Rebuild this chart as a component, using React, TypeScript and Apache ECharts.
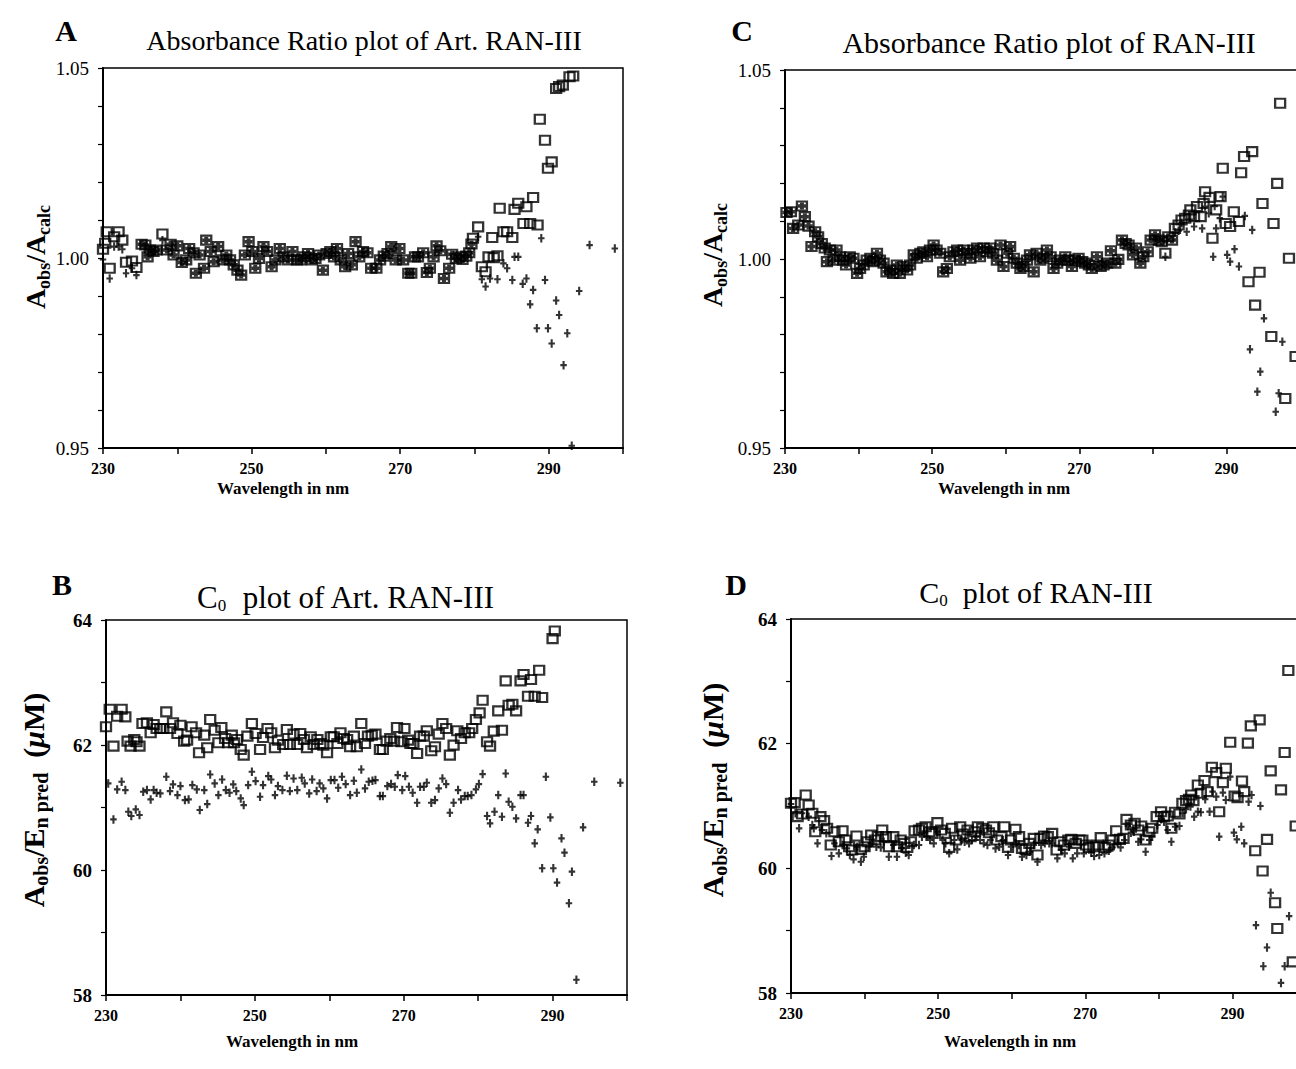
import React, { useEffect, useRef } from 'react';
import * as echarts from 'echarts';

const SERIF = "'Liberation Serif', 'DejaVu Serif', serif";
const PLUS = 'path://M2.1,0H4.1V3H6.2V5H4.1V8H2.1V5H0V3H2.1Z';
const PLUS_BOLD = 'path://M2,0H6V2H8V6H6V8H2V6H0V2H2Z';

// tick labels
const xLabelTicks = [230, 250, 270, 290];
const yLabelsAC = ['0.95', '1.00', '1.05'];
const yLabelsBD = [58, 60, 62, 64];

// ---------- Panel A : Absorbance Ratio plot of Art. RAN-III ----------
// points where square and plus coincide
const aOverlap = [
  [235.2,1.0036],[235.7,1.0034],[236.0,1.0003],[236.3,1.0021],[236.8,1.0017],[237.2,1.0021],[238.6,1.0021],[239.1,1.0036],[239.5,1.0008],[240.0,1.0032],[240.6,0.9988],[241.2,0.9995],[241.6,1.0025],[242.2,1.0014],[242.5,0.9960],[243.0,1.0008],[243.6,0.9973],[243.9,1.0047],[244.5,1.0017],[244.9,0.9990],[245.5,1.0030],[246.1,0.9995],[246.6,1.0008],[247.1,0.9995],[247.6,0.9982],[248.1,0.9968],[248.6,0.9955],[249.1,1.0008],[249.6,1.0043],[250.1,1.0017],[250.5,0.9973],[251.0,0.9999],[251.6,1.0030],[252.1,1.0017],[252.7,0.9977],[253.2,0.9995],[253.8,1.0025],[254.3,1.0003],[254.9,0.9995],[255.5,1.0017],[256.1,0.9995],[256.6,0.9995],[257.1,1.0003],[257.6,1.0012],[258.1,0.9995],[258.6,0.9999],[259.1,1.0008],[259.6,0.9968],[260.1,1.0012],[260.6,1.0017],[261.1,1.0003],[261.5,1.0025],[262.0,0.9995],[262.6,0.9977],[263.0,1.0012],[263.5,0.9982],[264.0,1.0043],[264.5,1.0003],[265.0,1.0017],[265.6,1.0014],[266.1,0.9973],[266.8,0.9973],[267.3,0.9995],[267.8,1.0005],[268.3,1.0012],[268.8,1.0030],[269.4,0.9995],[269.9,1.0025],[270.4,0.9995],[271.1,0.9960],[271.5,0.9960],[272.0,1.0003],[272.4,1.0003],[273.1,1.0014],[273.6,0.9962],[274.0,0.9973],[274.5,1.0003],[274.9,1.0032],[275.4,1.0019],[275.9,0.9946],[276.6,0.9973],[277.0,1.0010],[277.5,0.9999],[278.0,1.0003],[278.4,0.9996],[278.9,1.0005],[279.3,1.0014],[279.6,1.0037]
];
const aSquaresOnly = [
  [230.0,1.0023],[230.3,1.0039],[230.5,1.0069],[230.9,0.9973],[231.5,1.0056],[232.1,1.0069],[232.6,1.0047],[233.1,0.9989],[233.9,0.9992],[234.5,0.9975],[238.0,1.0063],
  [279.8,1.0052],[280.5,1.0082],[281.0,0.9977],[281.5,0.9964],[281.9,1.0003],[282.4,1.0054],[282.6,1.0001],[283.1,1.0006],[283.4,1.0131],[283.9,1.0069],[284.4,1.0069],[285.1,1.0054],[285.4,1.0128],[285.9,1.0144],[286.6,1.0091],[287.0,1.0135],[287.5,1.0091],[287.9,1.0159],[288.5,1.0087],[288.8,1.0365],[289.5,1.0310],[289.9,1.0236],[290.4,1.0253],[291.0,1.0446],[291.4,1.0451],[291.9,1.0455],[292.8,1.0477],[293.3,1.0479]
];
const aPlusesOnly = [
  [230.0,0.9996],[230.9,0.9946],[231.5,1.0030],[232.1,1.0030],[232.6,1.0023],[233.1,0.9960],[233.9,0.9973],[234.5,0.9955],[238.0,1.0047],
  [280.5,1.0056],[281.0,0.9944],[281.5,0.9925],[282.1,0.9946],[283.1,0.9944],[283.9,0.9986],[284.4,0.9973],[285.1,0.9942],[285.4,1.0003],[285.9,1.0003],[286.5,0.9932],[287.0,0.9946],[287.5,0.9878],[287.9,0.9916],[288.4,0.9815],[289.0,1.0052],[289.5,0.9942],[289.9,0.9815],[290.4,0.9775],[291.0,0.9888],[291.4,0.9850],[292.0,0.9718],[292.5,0.9802],[293.1,0.9506],[294.1,0.9913],[295.5,1.0034],[298.9,1.0025]
];

// ---------- Panel C : Absorbance Ratio plot of RAN-III ----------
const cOverlap = [
  [230.2,1.0123],[230.8,1.0125],[231.1,1.0081],[231.8,1.0090],[232.3,1.0140],[232.7,1.0112],[233.2,1.0087],[233.6,1.0033],[234.1,1.0072],[234.5,1.0059],[235.0,1.0041],[235.4,1.0029],[235.7,0.9993],[236.1,1.0024],[236.6,0.9997],[237.0,1.0024],[237.5,1.0006],[237.9,0.9997],[238.3,0.9984],[238.8,1.0006],[239.3,1.0002],[239.8,0.9962],[240.2,0.9975],[240.7,0.9984],[241.1,0.9997],[241.6,1.0002],[242.0,0.9993],[242.5,1.0015],[242.9,0.9997],[243.4,0.9989],[243.8,0.9966],[244.3,0.9971],[244.7,0.9962],[245.2,0.9984],[245.6,0.9962],[246.1,0.9980],[246.6,0.9971],[247.0,0.9984],[247.5,1.0011],[247.9,1.0002],[248.4,1.0015],[248.8,1.0019],[249.3,1.0006],[249.7,1.0024],[250.2,1.0037],[250.6,1.0024],[251.1,1.0015],[251.5,0.9966],[252.0,0.9975],[252.4,1.0006],[252.9,1.0019],[253.4,1.0024],[253.8,0.9997],[254.3,1.0024],[254.7,1.0015],[255.2,1.0002],[255.6,1.0024],[256.1,1.0029],[256.5,1.0006],[257.0,1.0029],[257.4,1.0019],[257.9,1.0029],[258.3,1.0015],[258.8,0.9997],[259.3,1.0037],[259.7,0.9980],[260.2,1.0015],[260.6,1.0033],[261.1,1.0002],[261.5,0.9989],[262.0,0.9975],[262.4,0.9980],[262.9,0.9997],[263.3,1.0011],[263.8,0.9966],[264.2,1.0015],[264.7,0.9997],[265.1,1.0002],[265.6,1.0024],[266.1,1.0006],[266.5,0.9975],[267.0,0.9989],[267.4,0.9997],
  [268.1,1.0006],[268.5,0.9997],[269.0,0.9980],[269.4,0.9997],[269.9,1.0002],[270.4,0.9993],[270.8,0.9989],[271.3,0.9984],[271.7,0.9975],[272.4,1.0006],[272.9,0.9980],[273.3,0.9984],[273.8,0.9989],[274.3,1.0022],[274.9,0.9989],[275.3,0.9999],[275.8,1.0050],[276.3,1.0041],[276.7,1.0037],[277.3,1.0011],[277.7,1.0029],[278.3,0.9989],[278.7,1.0006],[279.3,1.0019],[279.7,1.0050],[280.3,1.0064],[280.8,1.0050],[281.2,1.0046],[282.1,1.0059],[282.6,1.0050]
];
const cSquaresOnly = [
  [281.7,1.0015],[283.0,1.0081],[283.5,1.0090],[283.9,1.0103],[284.4,1.0108],[284.9,1.0116],[285.1,1.0130],[285.6,1.0112],[286.0,1.0139],[286.5,1.0112],[286.9,1.0147],[287.1,1.0178],[287.7,1.0163],[288.1,1.0055],[288.6,1.0130],[289.2,1.0165],[289.5,1.0240],[289.9,1.0094],[290.5,1.0086],[291.0,1.0125],[291.7,1.0099],[292.0,1.0228],[292.4,1.0271],[293.0,0.9940],[293.5,1.0284],[293.9,0.9878],[294.5,0.9965],[294.9,1.0147],[296.1,0.9795],[296.4,1.0094],[296.9,1.0200],[297.3,1.0412],[298.0,0.9631],[298.5,1.0002],[299.4,0.9742]
];
const cPlusesOnly = [
  [281.7,1.0006],[283.0,1.0070],[283.5,1.0075],[283.9,1.0095],[284.6,1.0072],[285.6,1.0086],[286.7,1.0081],[287.1,1.0139],[287.6,1.0121],[288.2,1.0006],[288.4,1.0140],[288.6,1.0081],[289.1,1.0108],[289.5,1.0165],[290.1,1.0011],[290.5,0.9993],[291.1,1.0026],[291.7,0.9980],[292.5,1.0114],[293.2,0.9761],[293.5,1.0077],[294.2,0.9649],[294.6,0.9702],[295.1,0.9843],[296.7,0.9596],[297.1,0.9645],[297.6,0.9781]
];

// ---------- Panel B : C0 plot of Art. RAN-III ----------
const bSquares = [
  [230.0,62.291],[230.5,62.573],[231.0,61.982],[231.5,62.461],[232.1,62.573],[232.6,62.450],[232.9,62.062],[233.3,61.982],[233.8,62.088],[234.1,62.051],[234.5,61.982],[234.9,62.344],[235.5,62.355],[236.0,62.195],[236.4,62.328],[236.8,62.264],[237.3,62.264],[237.7,62.264],[238.1,62.530],[238.6,62.264],[239.0,62.355],[239.6,62.184],[240.0,62.317],[240.5,62.062],[240.9,62.078],[241.5,62.291],[242.1,62.195],[242.5,61.875],[243.2,62.158],[243.6,61.955],[244.0,62.408],[244.6,62.237],[245.1,62.035],[245.5,62.280],[246.0,62.104],[246.4,62.035],[246.9,62.158],[247.2,62.035],[247.6,62.088],[248.1,61.929],[248.5,61.838],[249.0,62.142],[249.6,62.344],[250.1,62.184],[250.7,61.929],[251.1,62.120],[251.7,62.264],[252.2,62.195],[252.7,61.955],[253.1,62.078],[253.8,62.008],[254.3,62.248],[254.7,62.008],[255.2,62.174],[255.7,62.008],[256.1,62.184],[256.6,62.088],[257.0,61.955],[257.5,62.131],[257.9,62.008],[258.4,62.088],[258.8,62.024],[259.2,61.998],[259.7,61.875],[260.2,62.131],[260.6,62.131],[261.1,62.024],[261.5,62.195],[261.9,62.104],[262.4,62.088],[262.8,61.971],[263.3,62.142],[263.7,61.971],[264.3,62.344],[264.8,62.024],[265.2,62.142],[265.7,62.158],[266.2,62.174],[266.8,61.929],[267.2,61.929],[267.7,62.062],[268.2,62.104],[268.7,62.062],[269.1,62.280],[269.7,62.051],[270.1,62.264],[270.6,62.078],
  [270.9,62.024],[271.3,62.024],[271.8,61.865],[272.2,62.142],[272.7,62.142],[273.1,62.227],[273.7,61.907],[274.2,61.971],[274.7,62.174],[275.2,62.344],[275.7,62.264],[276.2,61.838],[276.7,61.998],[277.2,62.227],[277.7,62.104],[278.2,62.195],[278.8,62.195],[279.2,62.264],[279.7,62.408],[280.2,62.514],[280.6,62.717],[281.2,62.051],[281.6,61.982],[282.1,62.222],[282.7,62.546],[283.2,62.237],[283.7,63.026],[284.1,62.637],[284.6,62.653],[285.1,62.546],[285.7,63.026],[286.1,63.127],[286.7,62.781],[287.1,63.047],[287.6,62.781],[288.2,63.196],[288.6,62.759],[290.0,63.702],[290.3,63.824]
];
const bPluses = [
  [230.3,61.386],[231.0,60.810],[231.5,61.290],[232.1,61.412],[232.6,61.279],[233.0,60.933],[233.4,60.864],[234.0,60.970],[234.5,60.880],[235.0,61.252],[235.5,61.279],[236.0,61.130],[236.4,61.279],[236.8,61.236],[237.3,61.226],[238.1,61.492],[238.6,61.263],[239.0,61.370],[239.6,61.199],[240.0,61.343],[240.6,61.119],[241.1,61.130],[241.6,61.359],[242.2,61.290],[242.6,60.960],[243.2,61.279],[243.6,61.055],[244.0,61.529],[244.6,61.386],[245.1,61.199],[245.6,61.449],[246.1,61.279],[246.6,61.236],[247.1,61.370],[247.5,61.263],[248.1,61.146],[248.5,61.039],[249.1,61.359],[249.6,61.572],[250.1,61.423],[250.7,61.173],[251.1,61.359],[251.8,61.503],[252.2,61.449],[252.7,61.199],[253.1,61.343],[253.7,61.279],[254.3,61.508],[254.7,61.263],[255.2,61.465],[255.7,61.279],[256.3,61.476],[256.7,61.386],[257.3,61.226],[257.7,61.449],[258.3,61.263],[258.7,61.386],[259.2,61.306],[259.7,61.146],[260.2,61.439],[260.7,61.439],[261.2,61.316],[261.7,61.492],[262.2,61.375],[262.8,61.199],[263.3,61.428],[263.7,61.236],[264.3,61.609],[264.8,61.306],[265.3,61.412],[265.8,61.428],[266.2,61.439],[266.8,61.183],[267.2,61.183],[267.8,61.343],[268.3,61.375],[268.8,61.332],[269.2,61.519],[269.8,61.279],[270.2,61.503],[270.7,61.332],
  [271.2,61.236],[271.8,61.077],[272.2,61.332],[272.7,61.332],[273.1,61.396],[273.7,61.077],[274.2,61.119],[274.7,61.306],[275.2,61.465],[275.7,61.375],[276.2,60.917],[276.7,61.077],[277.3,61.279],[277.7,61.130],[278.2,61.183],[278.6,61.183],[279.1,61.199],[279.7,61.290],[280.1,61.375],[280.6,61.535],[281.2,60.864],[281.6,60.747],[282.2,60.933],[282.7,61.199],[283.2,60.853],[283.7,61.545],[284.1,61.093],[284.6,61.013],[285.1,60.826],[285.7,61.199],[286.1,61.199],[286.7,60.757],[287.1,60.864],[287.6,60.427],[288.0,60.651],[288.6,60.028],[289.1,61.492],[289.7,60.842],[290.1,60.028],[290.6,59.799],[291.2,60.507],[291.6,60.278],[292.2,59.468],[292.6,59.974],[293.2,58.244],[294.1,60.683],[295.6,61.412],[299.1,61.396]
];

// ---------- Panel D : C0 plot of RAN-III ----------
const dSquares = [
  [230.0,61.043],[230.5,61.054],[230.9,60.829],[231.5,60.872],[232.0,61.177],[232.4,61.017],[232.9,60.883],[233.3,60.588],[234.0,60.829],[234.5,60.765],[234.9,60.642],[235.4,60.374],[235.9,60.588],[236.5,60.427],[237.0,60.604],[237.4,60.454],[237.9,60.347],[238.3,60.294],[238.9,60.518],[239.5,60.304],[240.0,60.347],[240.4,60.427],[240.9,60.535],[241.4,60.454],[241.8,60.508],[242.4,60.615],[242.9,60.508],[243.3,60.347],[243.9,60.508],[244.4,60.347],[244.9,60.454],[245.4,60.401],[245.8,60.336],[246.3,60.427],[246.8,60.604],[247.4,60.615],[247.8,60.642],[248.3,60.668],[248.8,60.588],[249.2,60.561],[249.9,60.733],[250.4,60.615],[250.9,60.561],[251.5,60.336],[251.9,60.642],[252.4,60.454],[253.0,60.668],[253.4,60.551],[254.0,60.615],[254.4,60.508],[255.0,60.588],[255.4,60.668],[256.0,60.642],[256.5,60.615],[256.9,60.572],[257.5,60.668],[258.0,60.454],[258.6,60.508],[259.0,60.668],[259.5,60.336],[259.9,60.454],[260.5,60.626],[261.0,60.508],[261.4,60.320],[261.9,60.304],[262.4,60.401],[263.0,60.481],[263.5,60.213],[263.9,60.481],[264.4,60.518],[264.9,60.508],[265.5,60.561],[266.1,60.294],[266.6,60.427],[267.1,60.374],[267.7,60.454],
  [268.1,60.465],[268.7,60.401],[269.2,60.454],[269.6,60.454],[270.1,60.374],[270.5,60.336],[271.1,60.347],[271.7,60.374],[272.1,60.492],[272.7,60.336],[273.2,60.374],[273.7,60.454],[274.2,60.604],[274.7,60.465],[275.2,60.481],[275.6,60.786],[276.2,60.695],[276.7,60.722],[277.2,60.615],[277.6,60.679],[278.2,60.454],[278.7,60.588],[279.1,60.642],[279.7,60.829],[280.3,60.909],[280.7,60.829],[281.2,60.840],[281.7,60.642],[282.2,60.899],[282.8,60.872],[283.2,61.043],[283.7,61.086],[284.1,61.108],[284.4,61.177],[284.7,61.086],[285.3,61.338],[285.7,61.204],[286.2,61.408],[286.6,61.231],[287.2,61.622],[287.8,61.536],[288.2,60.909],[288.7,61.375],[289.1,61.606],[289.7,62.024],[290.3,61.161],[290.7,61.134],[291.3,61.402],[291.6,61.231],[292.1,62.008],[292.5,62.286],[293.1,60.283],[293.7,62.382],[294.1,59.956],[294.7,60.465],[295.2,61.563],[295.8,59.447],[296.1,59.035],[296.6,61.258],[297.1,61.858],[297.6,63.175],[298.2,58.499],[298.6,60.679]
];
const dPluses = [
  [230.0,61.033],[230.6,60.883],[231.1,60.642],[231.5,60.883],[232.4,60.829],[232.9,60.695],[233.1,60.642],[233.6,60.401],[234.2,60.615],[234.8,60.561],[235.5,60.197],[235.9,60.401],[236.5,60.240],[237.0,60.374],[237.6,60.320],[238.0,60.213],[238.5,60.144],[239.0,60.347],[239.5,60.106],[239.9,60.186],[240.5,60.347],[241.0,60.401],[241.6,60.347],[242.2,60.336],[242.6,60.427],[243.3,60.186],[243.9,60.374],[244.4,60.186],[245.0,60.320],[245.6,60.251],[246.0,60.213],[246.7,60.374],[247.4,60.374],[247.8,60.508],[248.4,60.508],[248.9,60.454],[249.4,60.401],[249.9,60.588],[250.6,60.454],[251.0,60.401],[251.5,60.240],[252.2,60.454],[252.6,60.304],[253.2,60.454],[253.6,60.427],[254.2,60.401],[254.6,60.454],[255.2,60.508],[255.7,60.454],[256.2,60.401],[256.7,60.374],[257.1,60.454],[257.8,60.320],[258.3,60.347],[258.8,60.454],[259.5,60.213],[259.9,60.347],[260.5,60.401],[261.0,60.374],[261.4,60.186],[262.0,60.213],[262.5,60.267],[263.0,60.374],[263.5,60.106],[264.0,60.374],[264.5,60.401],[265.1,60.401],[265.5,60.401],[266.2,60.160],[266.7,60.294],[267.2,60.240],[267.8,60.347],
  [268.3,60.160],[268.9,60.240],[269.8,60.240],[270.8,60.251],[271.2,60.197],[271.9,60.213],[272.6,60.240],[273.2,60.283],[273.7,60.336],[274.4,60.401],[274.8,60.336],[275.3,60.454],[275.8,60.679],[276.2,60.572],[276.6,60.588],[277.2,60.427],[277.6,60.465],[278.2,60.267],[278.7,60.454],[279.1,60.508],[279.8,60.695],[280.3,60.786],[280.7,60.749],[281.2,60.615],[281.7,60.427],[282.2,60.668],[282.8,60.679],[283.2,60.883],[283.7,60.947],[284.3,60.990],[284.8,60.829],[285.3,60.909],[285.7,60.899],[286.3,61.108],[286.9,60.909],[287.3,61.231],[287.8,61.150],[288.2,60.508],[288.7,61.215],[289.1,61.097],[289.7,61.472],[290.2,60.572],[290.6,60.465],[291.2,60.668],[291.6,60.401],[292.2,61.070],[292.6,61.177],[293.2,59.088],[293.8,61.001],[294.2,58.430],[294.7,58.730],[295.2,59.608],[296.6,58.162],[297.1,58.430],[297.7,59.233]
];

const aSquares = [...aOverlap, ...aSquaresOnly];
const aPluses = [...aOverlap, ...aPlusesOnly];
const cSquares = [...cOverlap, ...cSquaresOnly];
const cPluses = [...cOverlap, ...cPlusesOnly];

function buildOption() {
  const grids = [
    { left: 103, top: 68, width: 520, height: 380 },
    { left: 106, top: 620, width: 521, height: 375 },
    { left: 785, top: 70, width: 515, height: 378 },
    { left: 791, top: 619, width: 515, height: 374 },
  ].map((g) => ({
    ...g, show: true, borderColor: '#000', borderWidth: 1.5, backgroundColor: 'transparent',
    containLabel: false, outerBoundsMode: 'none',
  }));

  const xAxes = [0, 1, 2, 3].map((i) => ({
    type: 'value', gridIndex: i, min: 230, max: 300, interval: 10,
    axisLine: { show: true, onZero: false, lineStyle: { color: '#000', width: 2 } },
    axisTick: { show: true, length: 6, lineStyle: { color: '#000', width: 1.5 } },
    splitLine: { show: false },
    axisLabel: {
      margin: 12, color: '#000', fontFamily: SERIF, fontWeight: 'bold', fontSize: 16,
      formatter: (v: number) => (xLabelTicks.includes(Math.round(v)) ? String(Math.round(v)) : ''),
    },
  }));

  const yAxes = [0, 1, 2, 3].map((i) => {
    const ratio = i === 0 || i === 2;
    return {
      type: 'value', gridIndex: i,
      min: ratio ? 0.95 : 58, max: ratio ? 1.05 : 64, interval: ratio ? 0.01 : 1,
      axisLine: { show: true, onZero: false, lineStyle: { color: '#000', width: 2 } },
      axisTick: { show: true, length: 5, lineStyle: { color: '#000', width: 1.2 } },
      splitLine: { show: false },
      axisLabel: {
        margin: 14, color: '#000', fontFamily: SERIF, fontSize: 19,
        fontWeight: ratio ? 'normal' : 'bold',
        formatter: ratio
          ? (v: number) => { const s = v.toFixed(2); return yLabelsAC.includes(s) ? s : ''; }
          : (v: number) => (yLabelsBD.includes(Math.round(v)) ? String(Math.round(v)) : ''),
      },
    };
  });

  const sq = (data: number[][], i: number) => ({
    type: 'scatter', xAxisIndex: i, yAxisIndex: i, data, symbol: 'rect', symbolSize: [10, 9],
    itemStyle: { color: 'rgba(0,0,0,0)', borderColor: '#000', borderWidth: 2.2 }, z: 2, silent: true, clip: true,
  });
  // pluses drawn on top of a coinciding square fill it, as in the scanned figure
  const pl = (data: number[][], i: number, overlapCount = 0) => ({
    type: 'scatter', xAxisIndex: i, yAxisIndex: i,
    data: data.map((p, k) => (k < overlapCount
      ? { value: p, symbol: PLUS_BOLD, symbolSize: [8, 7] }
      : { value: p })),
    symbol: PLUS, symbolSize: [6.5, 8.5],
    itemStyle: { color: '#000' }, z: 3, silent: true, clip: true,
  });

  const richName = (fs: number, sfs: number) => ({
    m: { fontFamily: SERIF, fontSize: fs, fontWeight: 'bold', color: '#000', lineHeight: 36, verticalAlign: 'middle' },
    s: { fontFamily: SERIF, fontSize: sfs, fontWeight: 'bold', color: '#000', verticalAlign: 'bottom' },
    i: { fontFamily: SERIF, fontSize: fs, fontWeight: 'bold', fontStyle: 'italic', color: '#000', lineHeight: 36, verticalAlign: 'middle' },
  });
  const titleRich = (fs: number) => ({
    m: { fontFamily: SERIF, fontSize: fs, color: '#000', lineHeight: 34, verticalAlign: 'middle' },
    s: { fontFamily: SERIF, fontSize: 17, color: '#000', verticalAlign: 'bottom' },
  });

  const text = (x: number, y: number, t: string, extra: any = {}) => ({
    type: 'text', x, y, silent: true,
    style: { text: t, align: 'center', verticalAlign: 'middle', fill: '#000', fontFamily: SERIF, ...extra },
  });

  const graphic = [
    text(66, 30, 'A', { fontSize: 30, fontWeight: 'bold' }),
    text(742, 30, 'C', { fontSize: 30, fontWeight: 'bold' }),
    text(62, 584, 'B', { fontSize: 30, fontWeight: 'bold' }),
    text(736, 584, 'D', { fontSize: 30, fontWeight: 'bold' }),
    text(364, 40, '{m|Absorbance Ratio plot of Art. RAN-III}', { rich: titleRich(28) }),
    text(1049, 42, '{m|Absorbance Ratio plot of RAN-III}', { rich: titleRich(30) }),
    text(346, 597, '{m|C}{s|0}{m|  plot of Art. RAN-III}', { rich: titleRich(31) }),
    text(1036, 592, '{m|C}{s|0}{m|  plot of RAN-III}', { rich: titleRich(30) }),
    text(283, 488, 'Wavelength in nm', { fontSize: 17, fontWeight: 'bold' }),
    text(1004, 488, 'Wavelength in nm', { fontSize: 17, fontWeight: 'bold' }),
    text(292, 1041, 'Wavelength in nm', { fontSize: 17, fontWeight: 'bold' }),
    text(1010, 1041, 'Wavelength in nm', { fontSize: 17, fontWeight: 'bold' }),
    { ...text(35, 257, '{m|A}{s|obs}{m|/A}{s|calc}', { rich: richName(28, 18) }), rotation: Math.PI / 2 },
    { ...text(712, 255, '{m|A}{s|obs}{m|/A}{s|calc}', { rich: richName(28, 18) }), rotation: Math.PI / 2 },
    { ...text(33, 800, '{m|A}{s|obs}{m|/E}{s|n pred}{m|  (}{i|μ}{m|M)}', { rich: richName(30, 20) }), rotation: Math.PI / 2 },
    { ...text(712, 790, '{m|A}{s|obs}{m|/E}{s|n pred}{m|  (}{i|μ}{m|M)}', { rich: richName(30, 20) }), rotation: Math.PI / 2 },
  ];

  return {
    animation: false,
    backgroundColor: '#fff',
    grid: grids,
    xAxis: xAxes,
    yAxis: yAxes,
    series: [
      sq(aSquares, 0), pl(aPluses, 0, aOverlap.length),
      sq(bSquares, 1), pl(bPluses, 1),
      sq(cSquares, 2), pl(cPluses, 2, cOverlap.length),
      sq(dSquares, 3), pl(dPluses, 3),
    ],
    graphic,
  };
}

export default function App() {
  const ref = useRef<HTMLDivElement>(null);
  useEffect(() => {
    document.body.style.margin = '0';
    const chart = echarts.init(ref.current as HTMLDivElement, null, { renderer: 'svg' });
    chart.setOption(buildOption() as any);
    return () => chart.dispose();
  }, []);
  return <div ref={ref} style={{ width: 1296, height: 1069, background: '#fff' }} />;
}
